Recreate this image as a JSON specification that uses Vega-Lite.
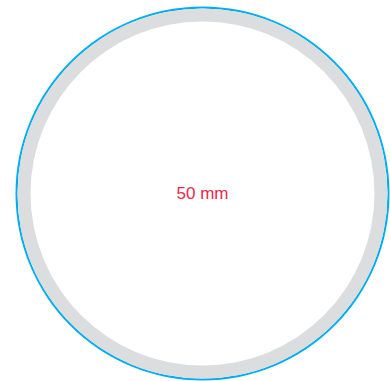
{
  "$schema": "https://vega.github.io/schema/vega-lite/v6.json",
  "width": 375,
  "height": 375,
  "autosize": {"type": "none"},
  "padding": {"left": 15, "top": 6, "right": 0, "bottom": 0},
  "background": "white",
  "view": {"stroke": null},
  "data": {"values": [{"label": "50 mm", "value": 1}]},
  "layer": [
    {
      "mark": {"type": "arc", "radius": 187, "radius2": 185, "fill": "#00aeef"},
      "encoding": {"theta": {"field": "value", "type": "quantitative"}}
    },
    {
      "mark": {"type": "arc", "radius": 185, "radius2": 172, "fill": "#dcdddf"},
      "encoding": {"theta": {"field": "value", "type": "quantitative"}}
    },
    {
      "mark": {"type": "text", "font": "Liberation Sans", "fontSize": 17, "color": "#e6294c", "baseline": "middle", "align": "center"},
      "encoding": {"text": {"field": "label", "type": "nominal"}}
    }
  ]
}
